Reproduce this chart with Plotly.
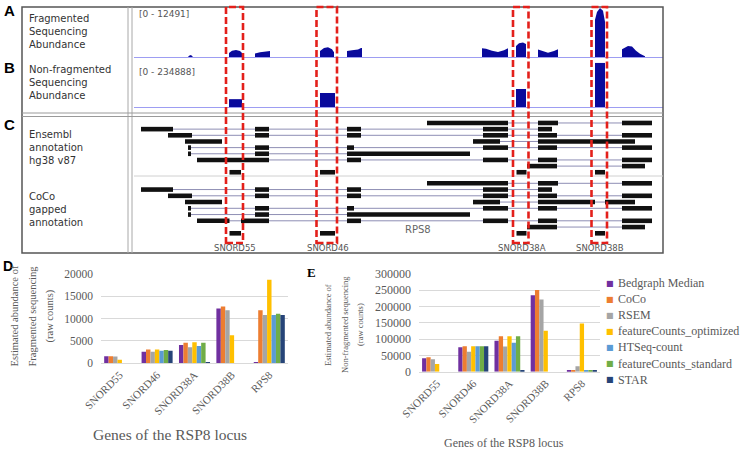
import plotly.graph_objects as go

W, H = 751, 451


def fx(p):
    return p / W


def fy(p):
    return 1 - p / H


# ---------------- Panels D / E : abundance estimates ----------------
genes = ["SNORD55", "SNORD46", "SNORD38A", "SNORD38B", "RPS8"]
methods = ["Bedgraph Median", "CoCo", "RSEM", "featureCounts_optimized",
           "HTSeq-count", "featureCounts_standard", "STAR"]
method_colors = ["#7030A0", "#ED7D31", "#A5A5A5", "#FFC000",
                 "#5B9BD5", "#70AD47", "#264478"]

frag_bedgraph = [1600, 2600, 4100, 12300, 300]
frag_coco = [1600, 3100, 4600, 12700, 11900]
frag_rsem = [1500, 2600, 3600, 11900, 10800]
frag_fc_opt = [800, 3100, 4700, 6300, 18700]
frag_htseq = [0, 2800, 3900, 0, 10800]
frag_fc_std = [0, 3000, 4600, 0, 11100]
frag_star = [0, 2800, 300, 0, 10800]

nonfrag_bedgraph = [41000, 75000, 95000, 235000, 3000]
nonfrag_coco = [44000, 78000, 109000, 251000, 3000]
nonfrag_rsem = [38000, 61000, 77000, 222000, 17000]
nonfrag_fc_opt = [23500, 78000, 109000, 126000, 148000]
nonfrag_htseq = [0, 78000, 89000, 0, 3000]
nonfrag_fc_std = [0, 78000, 109000, 0, 3000]
nonfrag_star = [0, 78000, 4000, 0, 3000]

frag_series = [frag_bedgraph, frag_coco, frag_rsem, frag_fc_opt,
               frag_htseq, frag_fc_std, frag_star]
nonfrag_series = [nonfrag_bedgraph, nonfrag_coco, nonfrag_rsem, nonfrag_fc_opt,
                  nonfrag_htseq, nonfrag_fc_std, nonfrag_star]

# ---------------- Panels A-C : genome browser view (relative bp) ----------------
locus_span = [0, 5290]
frag_scale_max = 12491
nonfrag_scale_max = 234888

frag_cov_pos = [0,
                540, 550, 570, 590,
                950, 950, 980, 1020, 1060, 1080, 1080,
                1210, 1210, 1260, 1310, 1360, 1360,
                1860, 1860, 1900, 1940, 1980, 2000, 2000,
                2130, 2130, 2180, 2240, 2270, 2280, 2280,
                3480, 3480, 3520, 3580, 3640, 3700, 3740, 3740,
                3820, 3820, 3850, 3890, 3920, 3920,
                4040, 4040, 4100, 4140, 4200, 4240, 4240,
                4610, 4610, 4630, 4660, 4690, 4710, 4710,
                4880, 4880, 4940, 4980, 5020, 5060, 5110, 5110,
                5290]
frag_cov_val = [0,
                0, 300, 500, 0,
                0, 1000, 1600, 1800, 1500, 1000, 0,
                0, 900, 1200, 1300, 1500, 0,
                0, 1500, 2300, 2500, 2000, 1200, 0,
                0, 1500, 1700, 1900, 2300, 2300, 0,
                0, 2200, 2100, 1600, 1300, 1700, 2200, 0,
                0, 2800, 3500, 3700, 3300, 0,
                0, 1900, 1400, 1100, 1500, 2000, 0,
                0, 9500, 11500, 12491, 11800, 9000, 0,
                0, 2000, 2800, 2700, 1600, 800, 200, 0,
                0]

nonfrag_cov_start = [950, 1860, 3820, 4610]
nonfrag_cov_end = [1080, 2010, 3920, 4710]
nonfrag_cov_val = [41000, 73000, 94000, 230000]

sno_names = ["SNORD55", "SNORD46", "SNORD38A", "SNORD38B"]
sno_start = [955, 1860, 3825, 4610]
sno_end = [1070, 2010, 3925, 4710]

# (row, transcript start, transcript end, exons)
ensembl_transcripts = [
    (0, 2930, 5180, [(2930, 3740), (4040, 4240), (4880, 5180)]),
    (1, 70, 4180, [(70, 390), (1210, 1350), (2130, 2270), (3490, 3740), (4040, 4180)]),
    (2, 340, 5180, [(340, 580), (1210, 1350), (2130, 2270), (3490, 3740), (4040, 4230), (4880, 5180)]),
    (3, 510, 880, [(510, 880)]),
    (3, 3390, 5010, [(3390, 3660), (4040, 5010)]),
    (4, 540, 5180, [(540, 570), (1210, 1350), (2130, 2200), (3490, 3740), (4040, 4230), (4880, 5180)]),
    (5, 540, 3360, [(540, 570), (1210, 1350), (2130, 3360)]),
    (6, 630, 5180, [(630, 1350), (2130, 2270), (3490, 3740), (4040, 4230), (4880, 5180)]),
    (7, 3930, 5110, [(3930, 4230), (4880, 5110)]),
]
sno_row = 8

SERIF = "Liberation Serif"
SANS = "DejaVu Sans"
TXT = "#595959"


def subtract(a, b, holes):
    pieces = [(a, b)]
    for hs, he in holes:
        new = []
        for s, e in pieces:
            if he <= s or hs >= e:
                new.append((s, e))
            else:
                if hs > s:
                    new.append((s, hs))
                if he < e:
                    new.append((he, e))
        pieces = new
    return pieces


fig = go.Figure()

# Track A: fragmented coverage
fig.add_trace(go.Scatter(x=frag_cov_pos, y=frag_cov_val, mode="lines", fill="tozeroy",
                         line=dict(width=0, color="#0a0a9c"), fillcolor="#0a0a9c",
                         xaxis="x", yaxis="y", hoverinfo="skip"))
# Track B: non-fragmented coverage
fig.add_trace(go.Bar(x=[(s + e) / 2 for s, e in zip(nonfrag_cov_start, nonfrag_cov_end)],
                     y=nonfrag_cov_val,
                     width=[e - s for s, e in zip(nonfrag_cov_start, nonfrag_cov_end)],
                     marker=dict(color="#0a0a9c", line=dict(width=0)),
                     xaxis="x2", yaxis="y2", hoverinfo="skip"))

holes = list(zip(sno_start, sno_end))
for xa, ya, gapped in [("x3", "y3", False), ("x4", "y4", True)]:
    lx, ly = [], []
    ex, ey = [], []
    for row, s, e, exons in ensembl_transcripts:
        lx += [s, e, None]
        ly += [row, row, None]
        for a, b in exons:
            pieces = subtract(a, b, holes) if gapped else [(a, b)]
            for p0, p1 in pieces:
                ex += [p0, p1, None]
                ey += [row, row, None]
    for s, e in holes:
        ex += [s, e, None]
        ey += [sno_row, sno_row, None]
    fig.add_trace(go.Scatter(x=lx, y=ly, mode="lines", line=dict(color="#8e8eb4", width=1),
                             xaxis=xa, yaxis=ya, hoverinfo="skip"))
    fig.add_trace(go.Scatter(x=ex, y=ey, mode="lines", line=dict(color="#111111", width=4.6),
                             xaxis=xa, yaxis=ya, hoverinfo="skip"))

# Panels D and E
for vals, color, name in zip(frag_series, method_colors, methods):
    fig.add_trace(go.Bar(x=genes, y=vals, name=name, marker=dict(color=color, line=dict(width=0)),
                         xaxis="x5", yaxis="y5", hoverinfo="skip"))
for vals, color, name in zip(nonfrag_series, method_colors, methods):
    fig.add_trace(go.Bar(x=genes, y=vals, name=name, marker=dict(color=color, line=dict(width=0)),
                         xaxis="x6", yaxis="y6", hoverinfo="skip"))

gdom = [fx(134), fx(663)]
hidden = dict(visible=False, fixedrange=True, automargin=False)
base_line = dict(domain=gdom, range=locus_span, showline=True, linecolor="#9d9df2", linewidth=1.2,
                 showticklabels=False, ticks="", showgrid=False, zeroline=False, fixedrange=True,
                 automargin=False)

bar_x = dict(tickangle=-45, tickfont=dict(family=SERIF, size=11, color=TXT), showline=True,
             linecolor="#d9d9d9", ticks="", showgrid=False, zeroline=False, fixedrange=True,
             automargin=False)
bar_y = dict(showgrid=True, gridcolor="#d9d9d9", gridwidth=1, zeroline=False, showline=False,
             ticks="", tickformat="d", fixedrange=True, ticklabelstandoff=7, automargin=False)

fig.update_layout(
    width=W, height=H, margin=dict(l=0, r=0, t=0, b=0, pad=0, autoexpand=False), autosize=False,
    paper_bgcolor="white", plot_bgcolor="rgba(0,0,0,0)", showlegend=False,
    barmode="group", bargap=0.17, bargroupgap=0,
    xaxis=dict(base_line, anchor="y"),
    yaxis=dict(domain=[fy(57), fy(8)], range=[0, frag_scale_max], anchor="x", **hidden),
    xaxis2=dict(base_line, anchor="y2"),
    yaxis2=dict(domain=[fy(107), fy(62)], range=[0, nonfrag_scale_max], anchor="x2", **hidden),
    xaxis3=dict(domain=gdom, range=locus_span, anchor="y3", **hidden),
    yaxis3=dict(domain=[fy(177), fy(117)], range=[8.77, -0.97], anchor="x3", **hidden),
    xaxis4=dict(domain=gdom, range=locus_span, anchor="y4", **hidden),
    yaxis4=dict(domain=[fy(253), fy(177)], range=[11.15, -1.01], anchor="x4", **hidden),
    xaxis5=dict(bar_x, domain=[fx(101), fx(288)], anchor="y5"),
    yaxis5=dict(bar_y, domain=[fy(363.3), fy(274)], range=[0, 20000], dtick=5000, anchor="x5",
                tickfont=dict(family=SERIF, size=11.5, color=TXT)),
    xaxis6=dict(bar_x, domain=[fx(419), fx(600)], anchor="y6"),
    yaxis6=dict(bar_y, domain=[fy(371.7), fy(274)], range=[0, 300000], dtick=50000, anchor="x6",
                tickfont=dict(family=SERIF, size=12, color=TXT)),
)

shapes = []
# frame of the genome browser panel
shapes.append(dict(type="rect", xref="paper", yref="paper", x0=fx(22), x1=fx(663), y0=fy(253), y1=fy(7),
                   line=dict(color="#555555", width=1.5)))
for xv in (128, 132):
    shapes.append(dict(type="line", xref="paper", yref="paper", x0=fx(xv), x1=fx(xv), y0=fy(253), y1=fy(7),
                       line=dict(color="#a8a8a8", width=1)))
for yv in (113, 116.5):
    shapes.append(dict(type="line", xref="paper", yref="paper", x0=fx(22), x1=fx(663), y0=fy(yv), y1=fy(yv),
                       line=dict(color="#9a9a9a", width=1)))
shapes.append(dict(type="line", xref="paper", yref="paper", x0=fx(134), x1=fx(663), y0=fy(176), y1=fy(176),
                   line=dict(color="#d0d0d0", width=1)))
# red dashed highlight boxes around snoRNAs
for s, e in holes:
    shapes.append(dict(type="rect", xref="x", yref="paper", x0=s - 35, x1=e + 20, y0=fy(243), y1=fy(7),
                       line=dict(color="#e3201b", width=2.6, dash="7px,3px"), layer="above"))

ann = []


def add_text(x, y, text, size, family=SANS, color="#333333", xanchor="left", angle=0, xref="paper"):
    ann.append(dict(x=x, y=y, xref=xref, yref="paper", text=text, showarrow=False, xanchor=xanchor,
                    yanchor="middle", align="left", textangle=angle,
                    font=dict(family=family, size=size, color=color)))


for letter, yv in [("A", 10), ("B", 67), ("C", 125)]:
    add_text(fx(9), fy(yv), "<b>%s</b>" % letter, 15, family="Liberation Sans", color="#000000",
             xanchor="center")
add_text(fx(8), fy(266), "<b>D</b>", 14, family="Liberation Sans", color="#000000", xanchor="center")
add_text(fx(311), fy(272), "<b>E</b>", 13, family=SERIF, color="#000000", xanchor="center")

add_text(fx(27), fy(32), "Fragmented<br>Sequencing<br>Abundance", 10)
add_text(fx(27), fy(82.5), "Non-fragmented<br>Sequencing<br>Abundance", 10)
add_text(fx(27), fy(147), "Ensembl<br>annotation<br>hg38 v87", 10)
add_text(fx(27), fy(210), "CoCo<br>gapped<br>annotation", 10)
add_text(fx(137), fy(14), "[0 - %d]" % frag_scale_max, 9, color="#555555")
add_text(fx(137), fy(72), "[0 - %d]" % nonfrag_scale_max, 9, color="#555555")

for name, s, e in zip(sno_names, sno_start, sno_end):
    add_text((s + e) / 2, fy(247.5), name, 8.5, color="#555555", xanchor="center", xref="x4")
add_text(2840, fy(229), "RPS8", 10, color="#666666", xanchor="center", xref="x4")

# axis titles of D and E
for xv, line in zip([13.5, 31.5, 49.5], ["Estimated abundance of", "Fragmented sequencing", "(raw counts)"]):
    add_text(fx(xv), fy(316), line, 10.5, family=SERIF, color=TXT, xanchor="center", angle=-90)
for xv, line in zip([328, 345, 360], ["Estimated abundance of", "Non-fragmented sequencing", "(raw counts)"]):
    add_text(fx(xv), fy(325), line, 8.5, family=SERIF, color=TXT, xanchor="center", angle=-90)
add_text(fx(170), fy(434), "Genes of the RSP8 locus", 15.5, family=SERIF, color=TXT, xanchor="center")
add_text(fx(504), fy(443), "Genes of the RSP8 locus", 12, family=SERIF, color=TXT, xanchor="center")

# legend of panel E
for i, (name, color) in enumerate(zip(methods, method_colors)):
    yv = 283 + 16.1 * i
    add_text(fx(610), fy(yv), "■", 8, family="DejaVu Sans", color=color, xanchor="center")
    add_text(fx(616), fy(yv), name, 12, family=SERIF, color=TXT)

fig.update_layout(shapes=shapes, annotations=ann)

fig.write_html("out.html", config={"displayModeBar": False},
               post_script="document.body.style.margin='0px';")
